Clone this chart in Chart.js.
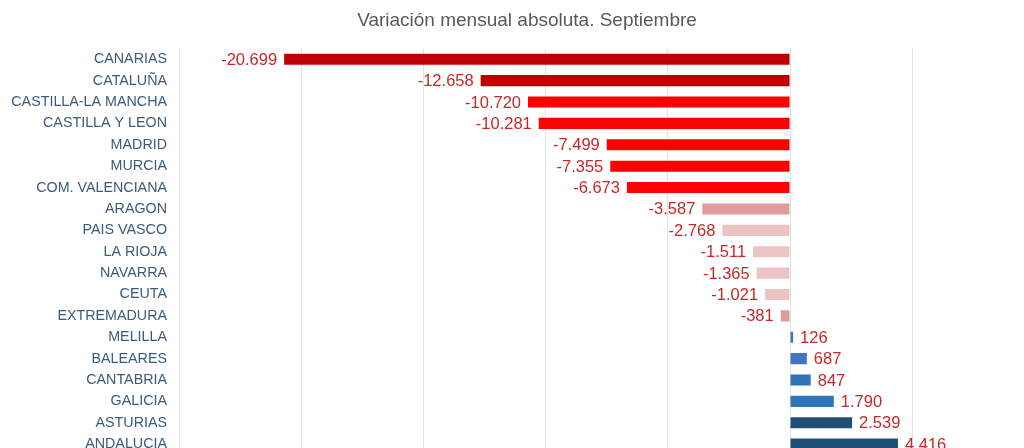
<!DOCTYPE html>
<html>
<head>
<meta charset="utf-8">
<script src="https://cdn.jsdelivr.net/npm/chart.js@4/dist/chart.umd.min.js"></script>
<style>
html,body{margin:0;padding:0;background:#fff;overflow:hidden;}
#wrap{width:1024px;height:448px;overflow:hidden;position:relative;}
canvas{display:block;}
</style>
</head>
<body>
<div id="wrap"><canvas id="c" width="1054" height="500" style="width:1054px;height:500px"></canvas></div>
<script>
const categories = ["CANARIAS","CATALUÑA","CASTILLA-LA MANCHA","CASTILLA Y LEON","MADRID","MURCIA","COM. VALENCIANA","ARAGON","PAIS VASCO","LA RIOJA","NAVARRA","CEUTA","EXTREMADURA","MELILLA","BALEARES","CANTABRIA","GALICIA","ASTURIAS","ANDALUCIA"];
const values = [-20699,-12658,-10720,-10281,-7499,-7355,-6673,-3587,-2768,-1511,-1365,-1021,-381,126,687,847,1790,2539,4416];
const barColors = ["#c00000","#c00000","#ff0000","#ff0000","#ff0000","#ff0000","#ff0000","#e09c9c","#ecc4c4","#ecc4c4","#ecc4c4","#ecc4c4","#e09c9c","#4472c4","#4472c4","#2e75b6","#2e75b6","#1f4e79","#1f4e79"];
const xTicks = [-25000,-20000,-15000,-10000,-5000,0,5000,10000];
const xMin = -25000;
const xMax = 10800;
const titleText = "Variación mensual absoluta. Septiembre";

const fmt = v => {
  const s = Math.abs(v).toString().replace(/\B(?=(\d{3})+(?!\d))/g, ".");
  return (v < 0 ? "-" : "") + s;
};

const valueLabels = {
  id: "valueLabels",
  afterDatasetsDraw(chart) {
    const ctx = chart.ctx;
    const meta = chart.getDatasetMeta(0);
    ctx.save();
    ctx.font = "16.5px 'Liberation Sans', Arial, sans-serif";
    ctx.fillStyle = "#c62828";
    ctx.textBaseline = "middle";
    meta.data.forEach((bar, i) => {
      const v = values[i];
      if (v < 0) { ctx.textAlign = "right"; ctx.fillText(fmt(v), bar.x - 7, bar.y + 1); }
      else { ctx.textAlign = "left"; ctx.fillText(fmt(v), bar.x + 7, bar.y + 1); }
    });
    ctx.restore();
  }
};

new Chart(document.getElementById("c"), {
  type: "bar",
  data: {
    labels: categories,
    datasets: [{
      data: values,
      backgroundColor: barColors,
      borderWidth: 0,
      categoryPercentage: 1,
      barPercentage: 0.52
    }]
  },
  options: {
    indexAxis: "y",
    responsive: false,
    animation: false,
    devicePixelRatio: 1,
    layout: { padding: 0 },
    plugins: {
      legend: { display: false },
      tooltip: { enabled: false },
      title: {
        display: true,
        text: titleText,
        color: "#555a60",
        font: { family: "'Liberation Sans', Arial, sans-serif", size: 19, weight: "normal" },
        padding: { top: 9.6, bottom: 16.2 }
      }
    },
    scales: {
      x: {
        min: xMin,
        max: xMax,
        afterBuildTicks: s => { s.ticks = xTicks.map(v => ({ value: v })); },
        afterFit: s => { s.height = 45.2; },
        grid: { color: "#e3e3e3", lineWidth: 1, drawTicks: false },
        border: { display: false },
        ticks: { display: false }
      },
      y: {
        afterFit: s => { s.width = 179; },
        grid: { display: false, drawTicks: false },
        border: { display: false },
        ticks: {
          color: "#3b5b7e",
          padding: 12,
          autoSkip: false,
          font: { family: "'Liberation Sans', Arial, sans-serif", size: 14.3 }
        }
      }
    }
  },
  plugins: [valueLabels]
});
</script>
</body>
</html>
